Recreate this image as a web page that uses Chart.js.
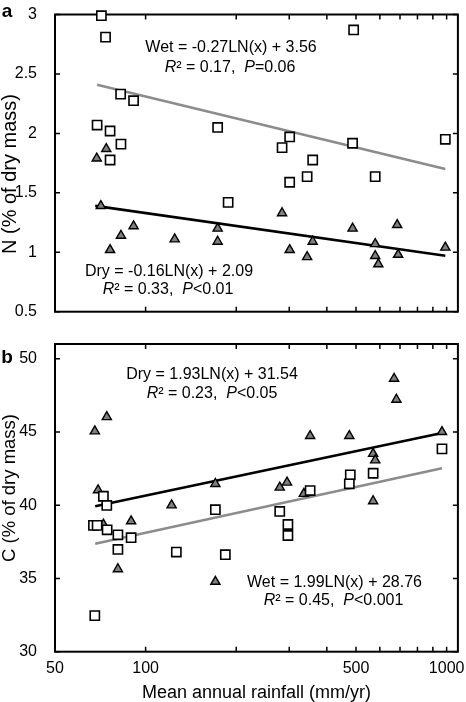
<!DOCTYPE html>
<html><head><meta charset="utf-8">
<script src="https://cdn.jsdelivr.net/npm/chart.js@4.4.1/dist/chart.umd.min.js"></script>
<style>
html,body{margin:0;padding:0;background:#fff;}
#wrap{position:relative;width:466px;height:702px;overflow:hidden;}
canvas{position:absolute;left:0;}
</style></head><body>
<div id="wrap">
<canvas id="ca" width="466" height="330" style="top:0"></canvas>
<canvas id="cb" width="466" height="372" style="top:330px"></canvas>
</div>
<script>
// ---- axis ticks ----
const rainTicks = [50, 100, 200, 300, 400, 500, 600, 700, 800, 900, 1000];
const rainTickLabels = { 50: '50', 100: '100', 500: '500', 1000: '1000' };
const nTicks = [0.5, 1, 1.5, 2, 2.5, 3];
const cTicks = [30, 35, 40, 45, 50];

// ---- panel a: N (% of dry mass) ----
const nWetRain = [71.3, 73.6, 491, 82.6, 91.2, 69.0, 76.2, 82.8, 173.5, 284, 301, 487, 990, 359, 76.2, 301, 344, 579, 188];
const nWetVal  = [2.99, 2.81, 2.87, 2.33, 2.275, 2.07, 2.02, 1.91, 2.05, 1.88, 1.97, 1.917, 1.95, 1.776, 1.776, 1.589, 1.636, 1.636, 1.42];
const nDryRain = [68.8, 74, 71, 76.2, 82.8, 91.2, 124.9, 173.5, 173.5, 284, 301, 344, 359, 487, 579, 579, 593, 685, 690, 990];
const nDryVal  = [1.79, 1.87, 1.39, 1.02, 1.14, 1.22, 1.11, 1.20, 1.09, 1.33, 1.02, 0.96, 1.09, 1.20, 1.07, 0.97, 0.90, 1.23, 0.98, 1.04];
const nWetFitRain = [69, 990];
const nWetFitVal  = [2.41, 1.70];
const nDryFitRain = [68, 990];
const nDryFitVal  = [1.39, 0.97];

// ---- panel b: C (% of dry mass) ----
const cDryRain = [67.8, 74.3, 69.5, 122, 170.5, 279, 295, 335.5, 352, 475, 570, 579, 570, 669, 681, 965, 72.4, 89.5, 80.9, 170.5];
const cDryVal  = [45.05, 46.02, 41.03, 40.0, 41.46, 41.21, 41.55, 40.78, 44.73, 44.73, 43.51, 43.07, 40.28, 48.64, 47.21, 45.0, 38.68, 38.91, 35.64, 34.78];
const cWetRain = [72.4, 74.3, 965, 478.6, 475, 570, 352, 170.5, 279, 297, 297, 67.1, 69, 74.5, 80.9, 80.9, 89.5, 126.5, 184, 67.8];
const cWetVal  = [40.61, 39.98, 43.84, 42.07, 41.46, 42.18, 41.0, 39.69, 39.57, 38.68, 37.93, 38.62, 38.62, 38.32, 37.98, 36.98, 37.78, 36.8, 36.62, 32.46];
const cDryFitRain = [68, 965];
const cDryFitVal  = [39.93, 44.93];
const cWetFitRain = [68, 965];
const cWetFitVal  = [37.37, 42.52];

const FONT = '"Liberation Sans", Arial, Helvetica, sans-serif';
Chart.defaults.font.family = FONT;
Chart.defaults.color = '#000';

function pts(xs, ys) { return xs.map((x, i) => ({ x: x, y: ys[i] })); }

const framePlugin = {
  id: 'frame',
  beforeDatasetsDraw(chart, args, opts) {
    const { ctx, chartArea: a } = chart;
    const x = chart.scales.x, y = chart.scales.y;
    ctx.save();
    ctx.strokeStyle = '#000';
    ctx.lineWidth = 1.5;
    ctx.beginPath();
    rainTicks.forEach(v => {
      if (v === 50) return;
      const px = x.getPixelForValue(v);
      ctx.moveTo(px, a.bottom); ctx.lineTo(px, a.bottom - 5);
      ctx.moveTo(px, a.top); ctx.lineTo(px, a.top + 5);
    });
    opts.yTicks.forEach(v => {
      const py = y.getPixelForValue(v);
      ctx.moveTo(a.left, py); ctx.lineTo(a.left + 5, py);
      ctx.moveTo(a.right, py); ctx.lineTo(a.right - 5, py);
    });
    ctx.stroke();
    ctx.lineWidth = 2;
    ctx.strokeRect(a.left, a.top, a.right - a.left, a.bottom - a.top);
    ctx.restore();
  }
};

function drawRich(ctx, parts, cx, cy, size) {
  let total = 0;
  parts.forEach(p => {
    ctx.font = (p.i ? 'italic ' : '') + (p.b ? 'bold ' : '') + size + 'px ' + FONT;
    p.w = ctx.measureText(p.t).width; total += p.w;
  });
  let x = cx - total / 2;
  ctx.textBaseline = 'middle'; ctx.textAlign = 'left'; ctx.fillStyle = '#000';
  parts.forEach(p => {
    ctx.font = (p.i ? 'italic ' : '') + (p.b ? 'bold ' : '') + size + 'px ' + FONT;
    ctx.fillText(p.t, x, cy); x += p.w;
  });
}

const textPlugin = {
  id: 'texts',
  afterDraw(chart, args, opts) {
    const ctx = chart.ctx;
    ctx.save();
    opts.items.forEach(it => {
      ctx.save();
      ctx.translate(it.x, it.y);
      if (it.rot) ctx.rotate(it.rot);
      drawRich(ctx, it.parts, 0, 0, it.size);
      ctx.restore();
    });
    ctx.restore();
  }
};

function makeChart(id, cfg) {
  return new Chart(document.getElementById(id), {
    type: 'scatter',
    data: {
      datasets: [
        { data: pts(cfg.dryFit[0], cfg.dryFit[1]), showLine: true, borderColor: '#000', borderWidth: 2.6, pointRadius: 0, order: 4, clip: false },
        { data: pts(cfg.wetFit[0], cfg.wetFit[1]), showLine: true, borderColor: '#8c8c8c', borderWidth: 2.6, pointRadius: 0, order: 3, clip: false },
        { data: pts(cfg.dry[0], cfg.dry[1]), pointStyle: 'triangle', pointRadius: 5.3, backgroundColor: '#7f7f7f', borderColor: '#000', borderWidth: 1.4, order: 2, clip: false },
        { data: pts(cfg.wet[0], cfg.wet[1]), pointStyle: 'rect', pointRadius: 6.5, backgroundColor: '#fff', borderColor: '#000', borderWidth: 1.6, order: 1, clip: false }
      ]
    },
    options: {
      responsive: false, animation: false, devicePixelRatio: 1,
      layout: { padding: { top: cfg.top, right: 5.5, left: 0, bottom: 0 } },
      plugins: {
        legend: { display: false }, tooltip: { enabled: false },
        frame: { yTicks: cfg.yTicks },
        texts: { items: cfg.texts }
      },
      scales: {
        x: {
          type: 'logarithmic', min: 50, max: 1090,
          afterBuildTicks: s => { s.ticks = rainTicks.map(v => ({ value: v })); },
          ticks: { display: cfg.showX, autoSkip: false, maxRotation: 0, minRotation: 0,
                   callback: v => rainTickLabels[v] || '', font: { size: 16 }, color: '#000', padding: -1 },
          grid: { display: false }, border: { display: false },
          title: { display: cfg.showX, text: 'Mean annual rainfall (mm/yr)', font: { size: 18, lineHeight: 1 }, color: '#000', padding: 0 },
          afterFit: s => { s.height = cfg.xH; s.paddingLeft = 0; s.paddingRight = 0; }
        },
        y: {
          type: 'linear', min: cfg.yMin, max: cfg.yMax,
          afterBuildTicks: s => { s.ticks = cfg.yTicks.map(v => ({ value: v })); },
          ticks: { callback: v => String(v), font: { size: 16 }, color: '#000', padding: 10 },
          grid: { display: false }, border: { display: false },
          afterFit: s => { s.width = 55; s.paddingTop = 0; s.paddingBottom = 0; }
        }
      }
    },
    plugins: [framePlugin, textPlugin]
  });
}

makeChart('ca', {
  top: 14.5, xH: 18.3, showX: false, yMin: 0.5, yMax: 3, yTicks: nTicks,
  wet: [nWetRain, nWetVal], dry: [nDryRain, nDryVal],
  wetFit: [nWetFitRain, nWetFitVal], dryFit: [nDryFitRain, nDryFitVal],
  texts: [
    { x: 7, y: 12, size: 19, parts: [{ t: 'a', b: true }] },
    { x: 10, y: 174, size: 20, rot: -Math.PI / 2, parts: [{ t: 'N (% of dry mass)' }] },
    { x: 231, y: 48, size: 16, parts: [{ t: 'Wet = -0.27LN(x) + 3.56' }] },
    { x: 230, y: 67.5, size: 16, parts: [{ t: 'R', i: true }, { t: '² = 0.17,  ' }, { t: 'P', i: true }, { t: '=0.06' }] },
    { x: 169, y: 271.5, size: 16, parts: [{ t: 'Dry = -0.16LN(x) + 2.09' }] },
    { x: 168, y: 289.5, size: 16, parts: [{ t: 'R', i: true }, { t: '² = 0.33,  ' }, { t: 'P', i: true }, { t: '<0.01' }] }
  ]
});

makeChart('cb', {
  top: 14, xH: 50.3, showX: true, yMin: 30, yMax: 51, yTicks: cTicks,
  wet: [cWetRain, cWetVal], dry: [cDryRain, cDryVal],
  wetFit: [cWetFitRain, cWetFitVal], dryFit: [cDryFitRain, cDryFitVal],
  texts: [
    { x: 7, y: 28, size: 19, parts: [{ t: 'b', b: true }] },
    { x: 10, y: 158, size: 18.5, rot: -Math.PI / 2, parts: [{ t: 'C (% of dry mass)' }] },
    { x: 212, y: 45, size: 16, parts: [{ t: 'Dry = 1.93LN(x) + 31.54' }] },
    { x: 212, y: 63.5, size: 16, parts: [{ t: 'R', i: true }, { t: '² = 0.23,  ' }, { t: 'P', i: true }, { t: '<0.05' }] },
    { x: 334.5, y: 252.5, size: 16, parts: [{ t: 'Wet = 1.99LN(x) + 28.76' }] },
    { x: 333.5, y: 270.5, size: 16, parts: [{ t: 'R', i: true }, { t: '² = 0.45,  ' }, { t: 'P', i: true }, { t: '<0.001' }] }
  ]
});
</script>
</body></html>
